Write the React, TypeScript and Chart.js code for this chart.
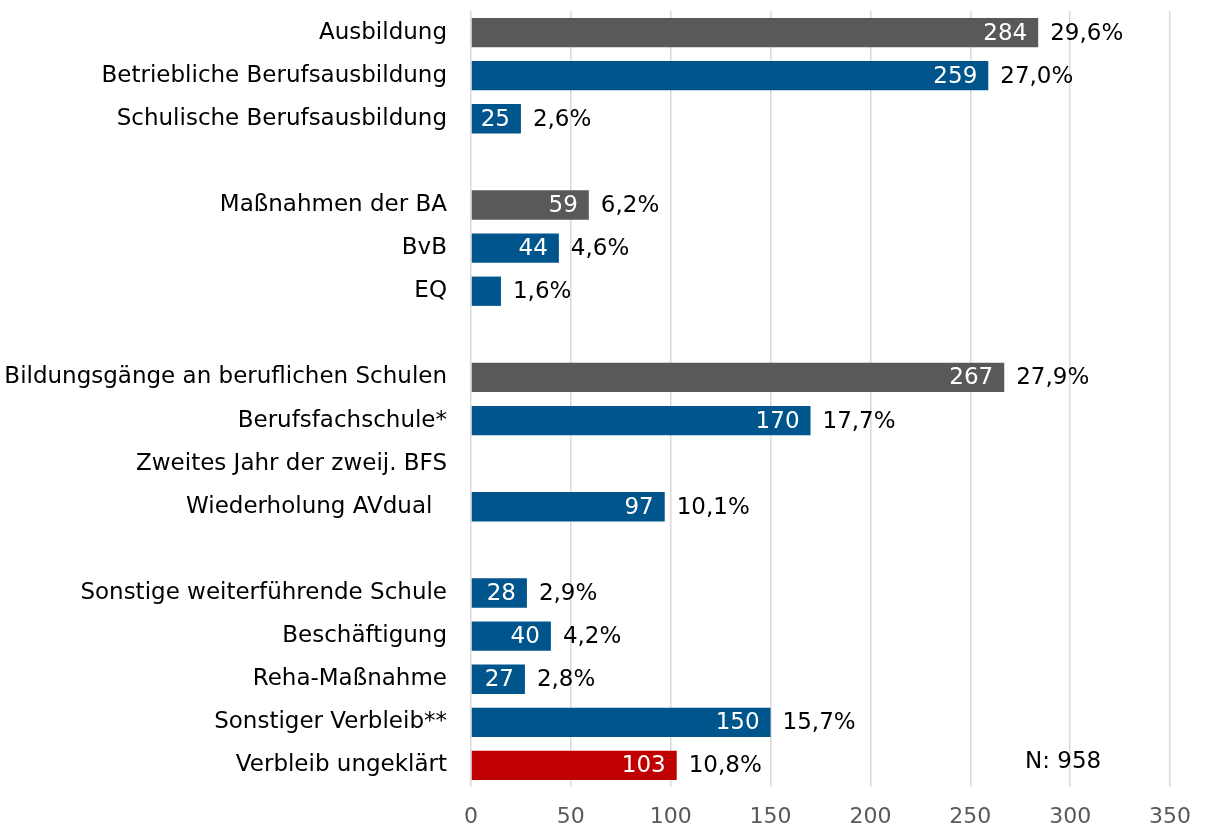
import React, { useEffect, useRef } from "react";
import { Chart, registerables } from "chart.js";

Chart.register(...registerables);

const categories = [
  "Ausbildung",
  "Betriebliche Berufsausbildung",
  "Schulische Berufsausbildung",
  "",
  "Maßnahmen der BA",
  "BvB",
  "EQ",
  " ",
  "Bildungsgänge an beruflichen Schulen",
  "Berufsfachschule*",
  "Zweites Jahr der zweij. BFS",
  "Wiederholung AVdual  ",
  "  ",
  "Sonstige weiterführende Schule",
  "Beschäftigung",
  "Reha-Maßnahme",
  "Sonstiger Verbleib**",
  "Verbleib ungeklärt",
];

const counts: (number | null)[] = [284, 259, 25, null, 59, 44, 15, null, 267, 170, null, 97, null, 28, 40, 27, 150, 103];
const percents: (string | null)[] = ["29,6%", "27,0%", "2,6%", null, "6,2%", "4,6%", "1,6%", null, "27,9%", "17,7%", null, "10,1%", null, "2,9%", "4,2%", "2,8%", "15,7%", "10,8%"];
const showCount: boolean[] = [true, true, true, false, true, true, false, false, true, true, false, true, false, true, true, true, true, true];
const barKinds = ["sum", "sub", "sub", "", "sum", "sub", "sub", "", "sum", "sub", "sub", "sub", "", "sub", "sub", "sub", "sub", "open"];
const xTicks = [0, 50, 100, 150, 200, 250, 300, 350];
const noteText = "N: 958";

const FONT = "'DejaVu Sans', 'Liberation Sans', sans-serif";
const kindColor: Record<string, string> = { sum: "#595959", sub: "#00558C", open: "#C00000", "": "#00558C" };

const labelPlugin = {
  id: "valueLabels",
  afterDatasetsDraw(chart: any) {
    const ctx = chart.ctx;
    const meta = chart.getDatasetMeta(0);
    ctx.save();
    ctx.font = `23px ${FONT}`;
    ctx.textBaseline = "middle";
    meta.data.forEach((bar: any, i: number) => {
      const v = counts[i];
      if (v == null) return;
      const y = bar.y;
      if (showCount[i]) {
        ctx.fillStyle = "#ffffff";
        ctx.textAlign = "right";
        ctx.fillText(String(v), bar.x - 11, y + 1);
      }
      if (percents[i]) {
        ctx.fillStyle = "#000000";
        ctx.textAlign = "left";
        ctx.fillText(percents[i] as string, bar.x + 12, y + 1);
      }
    });
    const area = chart.chartArea;
    ctx.textAlign = "center";
    ctx.fillStyle = "#000000";
    ctx.fillText(noteText, chart.scales.x.getPixelForValue(296.5), area.bottom - 25);
    ctx.restore();
  },
};

export default function App() {
  const ref = useRef<HTMLCanvasElement>(null);
  useEffect(() => {
    const chart = new Chart(ref.current as HTMLCanvasElement, {
      type: "bar",
      data: {
        labels: categories,
        datasets: [
          {
            data: counts as any,
            backgroundColor: barKinds.map((k) => kindColor[k]),
            categoryPercentage: 0.68,
            barPercentage: 1,
          },
        ],
      },
      options: {
        indexAxis: "y",
        animation: false,
        responsive: false,
        maintainAspectRatio: false,
        layout: { padding: { top: 11, right: 20, left: 0, bottom: 0 } },
        plugins: { legend: { display: false }, tooltip: { enabled: false } },
        scales: {
          x: {
            min: 0,
            max: 350,
            afterBuildTicks: (s: any) => {
              s.ticks = xTicks.map((v) => ({ value: v }));
            },
            grid: { color: "#d9d9d9", lineWidth: 1.5, drawTicks: false },
            border: { display: false },
            ticks: { color: "#595959", font: { family: FONT, size: 22 }, padding: 17 },
            afterFit: (s: any) => {
              s.height = 46;
            },
          },
          y: {
            grid: { display: false, drawTicks: false },
            border: { display: false },
            ticks: { color: "#000000", font: { family: FONT, size: 23 }, padding: 24, autoSkip: false },
            afterFit: (s: any) => {
              s.width = 471;
              s.paddingTop = 0;
              s.paddingBottom = 0;
            },
          },
        },
      },
      plugins: [labelPlugin],
    });
    return () => chart.destroy();
  }, []);
  return (
    <div style={{ position: "fixed", left: 0, top: 0, width: 1208, height: 833, background: "#fff" }}>
      <canvas ref={ref} width={1208} height={833} />
    </div>
  );
}
